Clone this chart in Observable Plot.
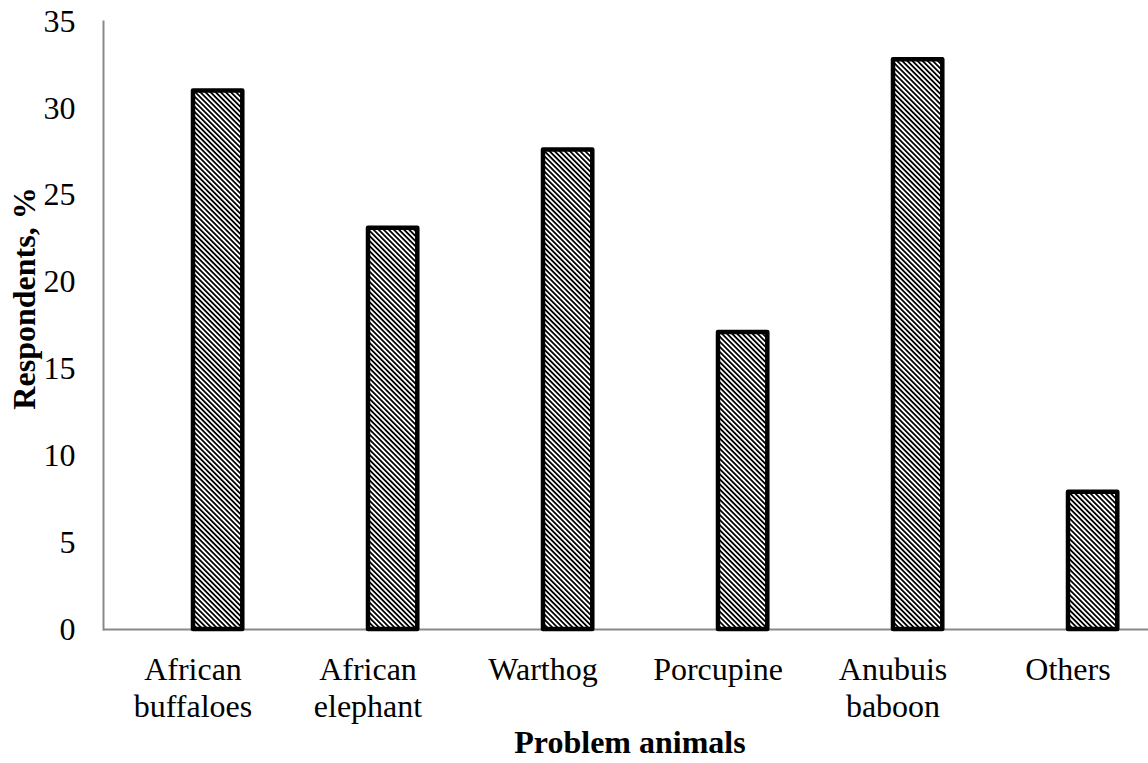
<!DOCTYPE html>
<html>
<head>
<meta charset="utf-8">
<script src="https://cdn.jsdelivr.net/npm/d3@7"></script>
<script src="https://cdn.jsdelivr.net/npm/@observablehq/plot@0.6"></script>
<style>
  html, body { margin: 0; padding: 0; background: #fff; }
  #chart svg { display: block; }
</style>
</head>
<body>
<svg width="0" height="0" style="position:absolute">
  <defs>
    <pattern id="stripes" patternUnits="userSpaceOnUse" width="3.6" height="3.6" patternTransform="rotate(-45)">
      <rect width="3.6" height="3.6" fill="#ffffff"></rect>
      <rect width="1.8" height="3.6" fill="#000000"></rect>
    </pattern>
  </defs>
</svg>
<div id="chart"></div>
<script>
const animals = ["African buffaloes", "African elephant", "Warthog", "Porcupine", "Anubuis baboon", "Others"];
const tickLabels = ["African\nbuffaloes", "African\nelephant", "Warthog", "Porcupine", "Anubuis\nbaboon", "Others"];
const respondents = [31.0, 23.1, 27.6, 17.1, 32.8, 7.9];
const yTicks = [0, 5, 10, 15, 20, 25, 30, 35];
const xTitle = "Problem animals";
const yTitle = "Respondents, %";

const data = animals.map((a, i) => ({animal: a, value: respondents[i]}));
const labelOf = new Map(animals.map((a, i) => [a, tickLabels[i]]));

const font = "'Liberation Serif', 'Times New Roman', serif";

const chart = Plot.plot({
  width: 1148,
  height: 763,
  marginTop: 21,
  marginBottom: 134,
  marginLeft: 103,
  marginRight: 0,
  style: {fontFamily: font, color: "#000", background: "#fff"},
  x: {domain: animals, range: [103, 1157], padding: 0},
  y: {domain: [0, 35], ticks: yTicks},
  marks: [
    Plot.frame({anchor: "left", stroke: "#898989", strokeWidth: 2}),
    Plot.ruleY([0], {stroke: "#898989", strokeWidth: 2}),
    Plot.barY(data, {
      x: "animal", y: "value",
      fill: "url(#stripes)", stroke: "#000", strokeWidth: 4.5, strokeLinejoin: "round",
      insetLeft: 88, insetRight: 37.7
    }),
    Plot.axisY({ticks: yTicks, tickSize: 0, tickPadding: 28, fontSize: 32, label: null}),
    Plot.axisX({tickSize: 0, tickPadding: 24, fontSize: 32, lineHeight: 1.16, label: null,
      tickFormat: d => labelOf.get(d)}),
    Plot.text([xTitle], {frameAnchor: "bottom", dy: 123, dx: 4, fontSize: 32, fontWeight: "bold"}),
    Plot.text([yTitle], {frameAnchor: "left", textAnchor: "middle", lineAnchor: "middle", dx: -79, dy: -27, rotate: -90, fontSize: 32, fontWeight: "bold"})
  ]
});
document.getElementById("chart").appendChild(chart);
</script>
</body>
</html>
